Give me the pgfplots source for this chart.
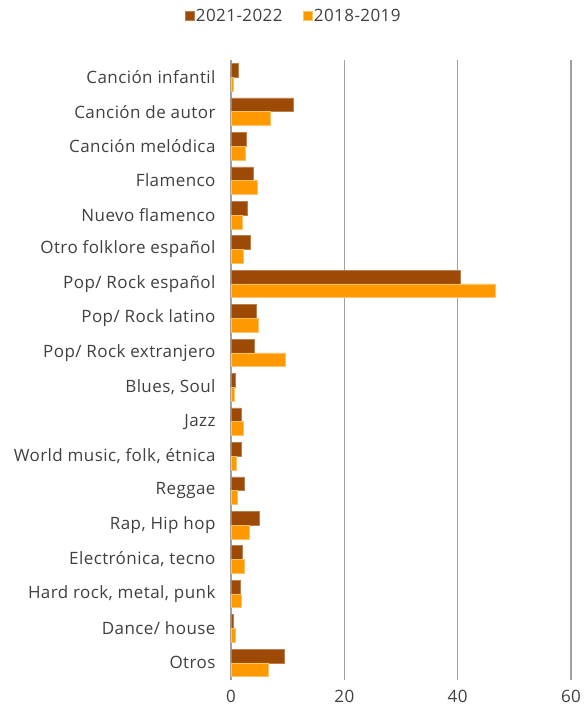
\documentclass[border=0pt]{standalone}
\usepackage{pgfplots}
\pgfplotsset{compat=1.18}
\usepackage{fontspec}
\setmainfont[LetterSpace=2.5]{Open Sans}
\definecolor{cdark}{RGB}{156,74,6}
\definecolor{corange}{RGB}{255,153,0}
\definecolor{ctext}{RGB}{64,64,64}
\definecolor{cgrid}{RGB}{160,160,160}
\begin{document}
\begin{tikzpicture}
\useasboundingbox (0,0) rectangle (585pt,710pt);
\begin{axis}[
  at={(231pt,30pt)}, anchor=south west,
  scale only axis, width=340pt, height=620pt,
  xbar=0pt, bar width=0.4,
  xmin=0, xmax=60, ymin=-0.5, ymax=17.5, y dir=reverse,
  xtick={0,20,40,60}, xticklabels={0,20,40,60},
  ytick={0,...,17},
  yticklabels={Canción infantil, Canción de autor, Canción melódica, Flamenco, Nuevo flamenco, Otro folklore español, Pop/ Rock español, Pop/ Rock latino, Pop/ Rock extranjero, {Blues, Soul}, Jazz, {World music, folk, étnica}, Reggae, {Rap, Hip hop}, {Electrónica, tecno}, {Hard rock, metal, punk}, Dance/ house, Otros},
  xmajorgrids, major grid style={cgrid, line width=1.1pt},
  axis line style={draw=none}, major tick length=0pt,
  tick label style={font=\fontsize{17}{20}\selectfont, text=ctext},
  yticklabel style={xshift=-12pt},
  xticklabel style={yshift=-7pt},
  legend columns=2,
  legend style={at={(0.184,1.071)}, anchor=center, draw=none, fill=none,
    font=\fontsize{17}{20}\selectfont, text=ctext,
    /tikz/every even column/.append style={column sep=18pt}},
  legend image code/.code={\fill[#1] (0pt,-4.5pt) rectangle (9pt,4.5pt);},
]
\addplot[fill=cdark, draw=cdark!70!white, line width=0.4pt] coordinates {
(1.35,0) (11.0,1) (2.7,2) (3.9,3) (2.9,4) (3.45,5) (40.5,6) (4.45,7) (4.1,8)
(0.8,9) (1.75,10) (1.75,11) (2.35,12) (4.9,13) (2.05,14) (1.6,15) (0.35,16) (9.45,17)};
\addlegendentry{2021-2022}
\addplot[fill=corange, draw=corange!60!white, line width=0.4pt] coordinates {
(0.35,0) (7.0,1) (2.5,2) (4.7,3) (2.05,4) (2.1,5) (46.6,6) (4.75,7) (9.5,8)
(0.6,9) (2.2,10) (0.95,11) (1.1,12) (3.3,13) (2.4,14) (1.75,15) (0.7,16) (6.6,17)};
\addlegendentry{2018-2019}
\end{axis}
\end{tikzpicture}
\end{document}
